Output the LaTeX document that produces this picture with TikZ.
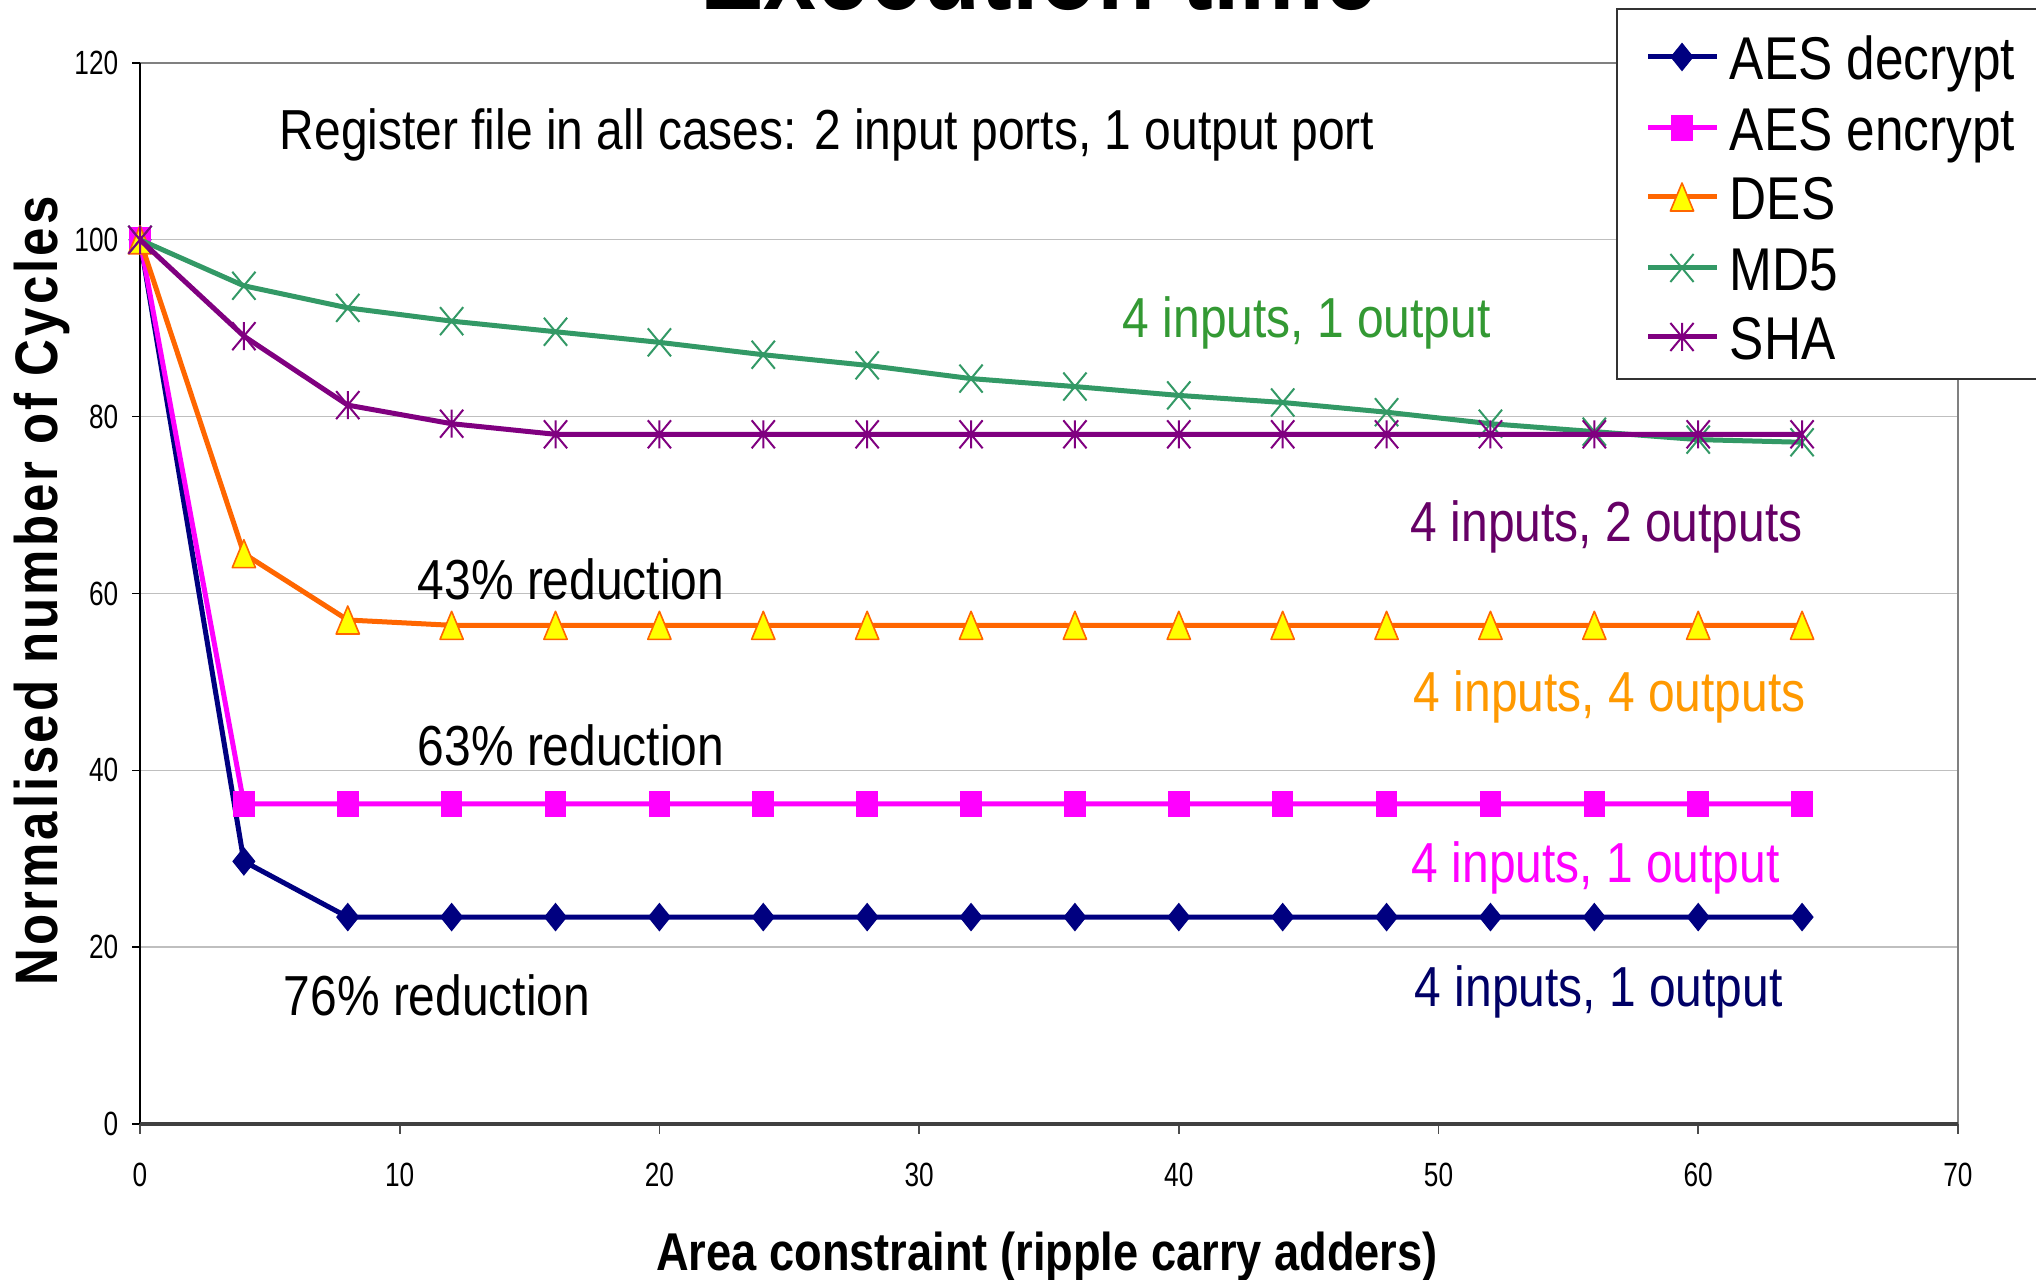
\documentclass[tikz,border=0pt]{standalone}
\usepackage{fontspec}
\setmainfont{Liberation Sans}
\newfontfamily\chartfont[FakeStretch=0.85]{Liberation Sans}
\newfontfamily\tickfont[FakeStretch=0.78]{Liberation Sans}
\newfontfamily\spacedfont[FakeStretch=0.85,LetterSpace=5]{Liberation Sans}

\definecolor{navyline}{RGB}{0,0,128}
\definecolor{magline}{RGB}{255,0,255}
\definecolor{desline}{RGB}{255,102,0}
\definecolor{desfill}{RGB}{255,255,0}
\definecolor{md5line}{RGB}{51,153,102}
\definecolor{shaline}{RGB}{128,0,128}
\definecolor{greentext}{RGB}{51,153,51}
\definecolor{purpletext}{RGB}{102,0,102}
\definecolor{orangetext}{RGB}{255,153,0}
\definecolor{navytext}{RGB}{0,0,102}

% plot marks
\pgfdeclareplotmark{cdiamond}{%
  \pgfpathmoveto{\pgfqpoint{0pt}{3.6pt}}\pgfpathlineto{\pgfqpoint{2.9pt}{0pt}}%
  \pgfpathlineto{\pgfqpoint{0pt}{-3.6pt}}\pgfpathlineto{\pgfqpoint{-2.9pt}{0pt}}%
  \pgfpathclose\pgfusepathqfill}
\pgfdeclareplotmark{csquare}{%
  \pgfpathrectangle{\pgfqpoint{-2.7pt}{-3.3pt}}{\pgfqpoint{5.4pt}{6.6pt}}\pgfusepathqfill}
\pgfdeclareplotmark{ctriangle}{%
  \pgfpathmoveto{\pgfqpoint{0pt}{3.5pt}}\pgfpathlineto{\pgfqpoint{2.9pt}{-3.5pt}}%
  \pgfpathlineto{\pgfqpoint{-2.9pt}{-3.5pt}}\pgfpathclose\pgfusepathqfillstroke}
\pgfdeclareplotmark{ccross}{%
  \pgfpathmoveto{\pgfqpoint{-2.9pt}{-3.5pt}}\pgfpathlineto{\pgfqpoint{2.9pt}{3.5pt}}%
  \pgfpathmoveto{\pgfqpoint{-2.9pt}{3.5pt}}\pgfpathlineto{\pgfqpoint{2.9pt}{-3.5pt}}%
  \pgfusepathqstroke}
\pgfdeclareplotmark{cstar}{%
  \pgfpathmoveto{\pgfqpoint{-2.9pt}{-3.5pt}}\pgfpathlineto{\pgfqpoint{2.9pt}{3.5pt}}%
  \pgfpathmoveto{\pgfqpoint{-2.9pt}{3.5pt}}\pgfpathlineto{\pgfqpoint{2.9pt}{-3.5pt}}%
  \pgfpathmoveto{\pgfqpoint{0pt}{-3.5pt}}\pgfpathlineto{\pgfqpoint{0pt}{3.5pt}}%
  \pgfusepathqstroke}

\begin{document}
\begin{tikzpicture}[x=0.25pt, y=-0.25pt,
  series/.style={line width=1.25pt, line join=round},
  aesdec/.style={series, draw=navyline, mark=cdiamond, mark options={fill=navyline}},
  aesenc/.style={series, draw=magline, mark=csquare, mark options={fill=magline}},
  des/.style={series, draw=desline, mark=ctriangle, mark options={fill=desfill, line width=0.4pt}},
  md5/.style={series, draw=md5line, mark=ccross, mark options={line width=0.5pt}},
  sha/.style={series, draw=shaline, mark=cstar, mark options={line width=0.5pt}},
  gridline/.style={draw=black!25, line width=0.35pt},
  frameline/.style={draw=black!50, line width=0.45pt},
  ticklab/.style={font=\tickfont\fontsize{8.4pt}{10pt}\selectfont, inner sep=0pt},
  note/.style={font=\chartfont\fontsize{14.1pt}{17pt}\selectfont, inner sep=0pt, anchor=base west},
  legtext/.style={font=\chartfont\fontsize{15.1pt}{18pt}\selectfont, inner sep=0pt, anchor=base west},
  axislab/.style={font=\chartfont\bfseries\fontsize{13.3pt}{16pt}\selectfont, inner sep=0pt, anchor=base}
]
\useasboundingbox[fill=white] (0,0) rectangle (2036,1280);

\node[font=\chartfont\bfseries\fontsize{28pt}{32pt}\selectfont, inner sep=0pt, anchor=base]
  (title) at (1039,10) {Execution time};

\begin{scope}[shift={(140,1124)}, x=6.4925pt, y=2.2105pt]
  % grid and frame
  \foreach \v in {20,40,...,100}
    \draw[gridline] (0,\v) -- (70,\v);
  \draw[frameline] (0,120) -- (70,120) -- (70,0);
  \foreach \v in {0,20,...,120} {
    \draw[black, line width=0.4pt] (0,\v) -- ++(-2pt,0);
    \node[ticklab, anchor=east] (ytick\v) at ([xshift=-5.25pt]0,\v) {\v};
  }
  \foreach \v in {0,10,...,70} {
    \draw[black!70, line width=0.4pt] (\v,0) -- ++(0,-2.5pt);
    \node[ticklab] (xtick\v) at ([yshift=-12.75pt]\v,0) {\v};
  }
  \draw[black, line width=0.55pt] (0,0) -- (0,120);
  \draw[black!75, line width=0.8pt] (0,0) -- (70,0);

  % data series
  \draw[aesdec] plot coordinates {(0,100) (4,29.7) (8,23.4) (12,23.4) (16,23.4) (20,23.4)
    (24,23.4) (28,23.4) (32,23.4) (36,23.4) (40,23.4) (44,23.4) (48,23.4) (52,23.4)
    (56,23.4) (60,23.4) (64,23.4)};
  \draw[aesenc] plot coordinates {(0,100) (4,36.2) (8,36.2) (12,36.2) (16,36.2) (20,36.2)
    (24,36.2) (28,36.2) (32,36.2) (36,36.2) (40,36.2) (44,36.2) (48,36.2) (52,36.2)
    (56,36.2) (60,36.2) (64,36.2)};
  \draw[des] plot coordinates {(0,100) (4,64.5) (8,57.0) (12,56.4) (16,56.4) (20,56.4)
    (24,56.4) (28,56.4) (32,56.4) (36,56.4) (40,56.4) (44,56.4) (48,56.4) (52,56.4)
    (56,56.4) (60,56.4) (64,56.4)};
  \draw[md5] plot coordinates {(0,100) (4,94.8) (8,92.3) (12,90.8) (16,89.6) (20,88.4)
    (24,87.0) (28,85.8) (32,84.3) (36,83.4) (40,82.4) (44,81.6) (48,80.5) (52,79.2)
    (56,78.3) (60,77.4) (64,77.1)};
  \draw[sha] plot coordinates {(0,100) (4,89.1) (8,81.3) (12,79.2) (16,78.0) (20,78.0)
    (24,78.0) (28,78.0) (32,78.0) (36,78.0) (40,78.0) (44,78.0) (48,78.0) (52,78.0)
    (56,78.0) (60,78.0) (64,78.0)};
\end{scope}

% annotations
\node[note] (regfile) at (279,150) {Register file in all cases: 2 input ports, 1 output port};
\node[note] (red43) at (417,600) {43\% reduction};
\node[note] (red63) at (417,766) {63\% reduction};
\node[note] (red76) at (283,1016) {76\% reduction};
\node[note, text=greentext] (lblmd5) at (1122,338) {4 inputs, 1 output};
\node[note, text=purpletext] (lblsha) at (1410,542) {4 inputs, 2 outputs};
\node[note, text=orangetext] (lbldes) at (1413,712) {4 inputs, 4 outputs};
\node[note, text=magline] (lblenc) at (1411,883) {4 inputs, 1 output};
\node[note, text=navytext] (lbldec) at (1414,1007) {4 inputs, 1 output};

% axis titles
\node[axislab] (xtitle) at (1047,1271) {Area constraint (ripple carry adders)};
\node[font=\spacedfont\bfseries\fontsize{15pt}{18pt}\selectfont, inner sep=0pt,
  anchor=base, rotate=90] (ytitle) at (57,591) {Normalised number of Cycles};

% legend
\draw[draw=black!80, fill=white, line width=0.4pt] (1617,9) rectangle (2060,379);
\foreach \sty/\txt/\yy in {aesdec/AES decrypt/57, aesenc/AES encrypt/128,
    des/DES/197, md5/MD5/268, sha/SHA/337} {
  \draw[\sty, mark indices={2}] plot coordinates {(1648,\yy) (1682,\yy) (1717,\yy)};
  \node[legtext] (leg\sty) at (1729,\yy+23) {\txt};
}
\end{tikzpicture}
\end{document}
